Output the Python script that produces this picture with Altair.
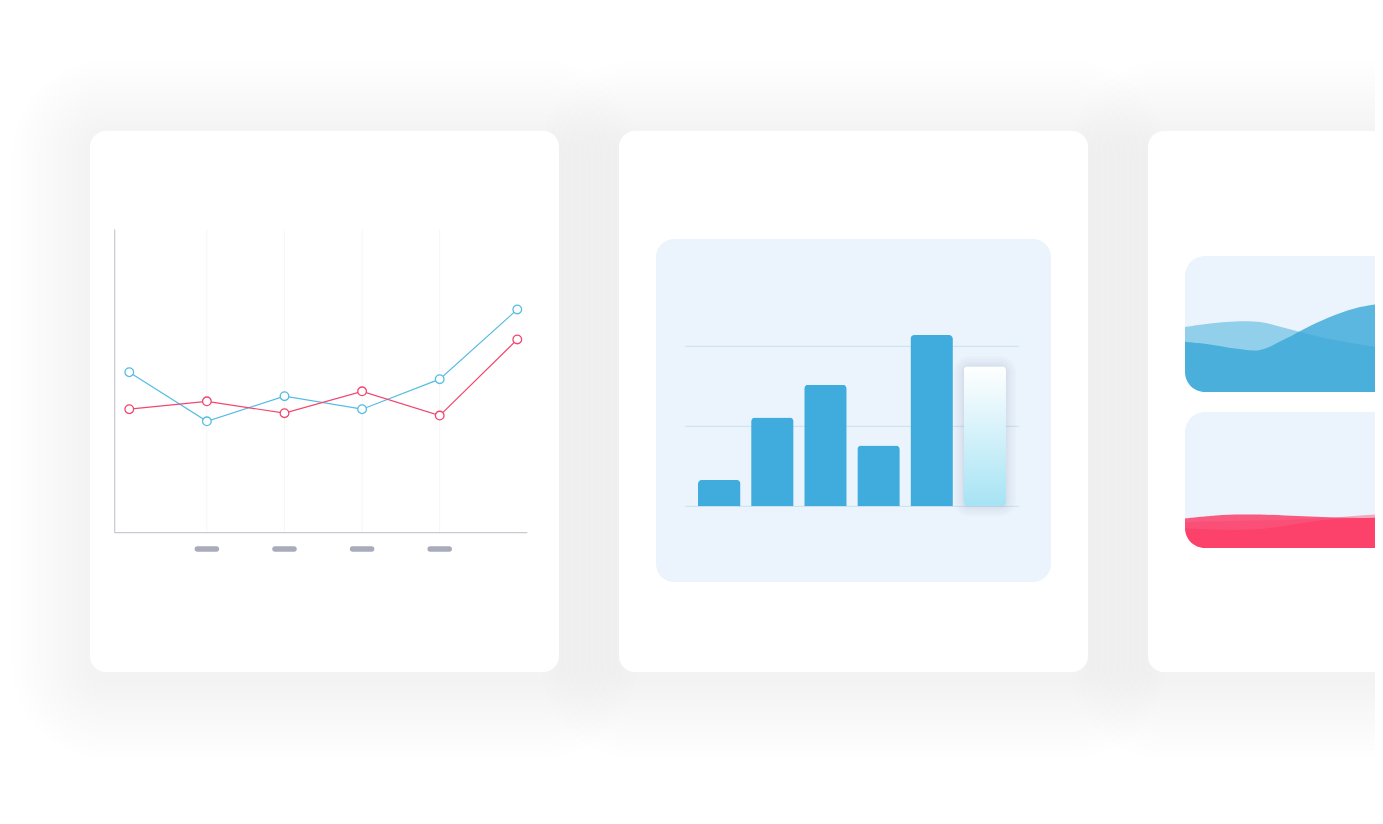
import altair as alt
import pandas as pd

# ---------------- data ----------------
line_steps = [0, 1, 2, 3, 4, 5]
blue_values = [52.9, 36.7, 45.0, 40.7, 50.6, 73.6]
red_values = [40.7, 43.3, 39.4, 46.6, 38.6, 63.7]
line_ticks = [1, 2, 3, 4]

bar_categories = ["1", "2", "3", "4", "5", "6"]
bar_values = [33, 111, 152, 76, 214, 175]
bar_grid = [0, 100, 200]
bar_highlight = "6"

wave_t = [0, 25, 50, 75, 100, 125, 150, 175, 200]
blue_back = [36.9, 34.9, 31.9, 30.9, 38.9, 48.5, 56.6, 62.5, 65.4]
blue_front = [47.8, 50.4, 51.8, 51.5, 47.1, 42.3, 38.2, 34.9, 32.0]
red_pale = [19.1, 19.5, 19.9, 20.2, 20.6, 21.3, 22.4, 23.9, 25.0]
red_mid = [21.7, 23.5, 24.6, 24.6, 23.9, 23.2, 22.4, 22.1, 22.1]
red_deep = [14.3, 13.6, 13.2, 14.0, 16.2, 19.1, 21.3, 22.1, 22.4]

# ---------------- layout (image pixels) ----------------
W, H = 1367, 808
M = 8  # page margin
CARDS = [(90, 131, 559, 672), (619, 131, 1088, 672), (1148, 131, 1617, 672)]
CARD_R = 16
SHADOW_LEVELS = 12
SHADOW_STEP = 6.5
SHADOW_DY = 8
SHADOW_OPACITY = 0.003
BAR_PANEL = (656, 239, 1051, 582)
WAVE_PANELS = [(1185, 256, 1700, 392), (1185, 412, 1700, 548)]
PANEL_R = 18

LINE_XDOM = [-0.188, 5.129]
LINE_XPX = [114.7, 527.3]
LINE_YPX = [532.7, 229.3]
PILL_Y = 549

BAR_XPX = [685, 1019]
BAR_YPX = [506.3, 266.3]

WAVE_XPX = [1185, 1385]

# ---------------- styles ----------------
BG_PANEL = "#EBF4FC"
BLUE_LINE = "#56BDE3"
RED_LINE = "#F2466F"
AXIS_C = "#C8CAD2"
GRID_C = "#F6F6F9"
PILL_C = "#A8ABBB"
BAR_C = "#3FACDD"
BAR_GRID_C = "#CFE4F1"
WAVE_BLUE = "#3AAAD8"
WAVE_RED = "#FB3E68"

PX = alt.Scale(domain=[M, M + W], range=[0, W], nice=False, zero=False)
PY = alt.Scale(domain=[M, M + H], range=[0, H], nice=False, zero=False)


def lin(domain, px):
    return alt.Scale(domain=domain, range=[px[0] - M, px[1] - M], nice=False, zero=False)


def boxes(rows, **mark):
    df = pd.DataFrame(rows, columns=["x", "y", "x2", "y2"])
    return alt.Chart(df).mark_rect(**mark).encode(
        x=alt.X("x:Q", scale=PX, axis=None),
        x2="x2:Q",
        y=alt.Y("y:Q", scale=PY, axis=None),
        y2="y2:Q",
    )


layers = []

# shadows
for i in range(SHADOW_LEVELS, 0, -1):
    e = SHADOW_STEP * i
    rows = [(x0 - e, y0 - e + SHADOW_DY, x1 + e, y1 + e + SHADOW_DY) for x0, y0, x1, y1 in CARDS]
    layers.append(boxes(rows, color="black", opacity=SHADOW_OPACITY, cornerRadius=CARD_R + e))

# cards
layers.append(boxes(CARDS, color="white", cornerRadius=CARD_R))
# inner panels
layers.append(boxes([BAR_PANEL], color=BG_PANEL, cornerRadius=PANEL_R))
layers.append(boxes(WAVE_PANELS, color=BG_PANEL, cornerRadius=20))

# ---------------- line chart ----------------
LX = lin(LINE_XDOM, LINE_XPX)
LY = lin([0, 100], LINE_YPX)
line_df = pd.DataFrame({
    "step": line_steps * 2,
    "value": blue_values + red_values,
    "series": ["blue"] * len(line_steps) + ["red"] * len(line_steps),
})
tick_df = pd.DataFrame({"step": line_ticks, "y0": [0] * len(line_ticks), "y1": [100] * len(line_ticks)})
axes_df = pd.DataFrame({
    "x": [LINE_XDOM[0], LINE_XDOM[0]],
    "x2": [LINE_XDOM[0], LINE_XDOM[1]],
    "y": [0, 0],
    "y2": [100, 0],
})
series_scale = alt.Scale(domain=["blue", "red"], range=[BLUE_LINE, RED_LINE])

grid = alt.Chart(tick_df).mark_rule(color=GRID_C, strokeWidth=1).encode(
    x=alt.X("step:Q", scale=LX, axis=None),
    y=alt.Y("y0:Q", scale=LY, axis=None),
    y2="y1:Q",
)
axis_lines = alt.Chart(axes_df).mark_rule(color=AXIS_C, strokeWidth=1.2).encode(
    x=alt.X("x:Q", scale=LX, axis=None),
    x2="x2:Q",
    y=alt.Y("y:Q", scale=LY, axis=None),
    y2="y2:Q",
)
pills = alt.Chart(tick_df).mark_rule(
    color=PILL_C, strokeWidth=5.5, strokeCap="round", xOffset=-9.5, x2Offset=9.5
).encode(
    x=alt.X("step:Q", scale=LX, axis=None),
    x2="step:Q",
    y=alt.value(PILL_Y - M),
)
lines = alt.Chart(line_df).mark_line(strokeWidth=1.2).encode(
    x=alt.X("step:Q", scale=LX, axis=None),
    y=alt.Y("value:Q", scale=LY, axis=None),
    stroke=alt.Stroke("series:N", scale=series_scale, legend=None),
)
points = alt.Chart(line_df).mark_point(
    shape="circle", size=75, strokeWidth=1.3, filled=False, fill="white", fillOpacity=1, opacity=1
).encode(
    x=alt.X("step:Q", scale=LX, axis=None),
    y=alt.Y("value:Q", scale=LY, axis=None),
    stroke=alt.Stroke("series:N", scale=series_scale, legend=None),
)
layers.append(alt.layer(grid, axis_lines, pills, lines, points))

# ---------------- bar chart ----------------
BX = alt.Scale(domain=bar_categories, range=[BAR_XPX[0] - M, BAR_XPX[1] - M],
               paddingInner=0.2, paddingOuter=0.245)
BY = lin([0, 300], BAR_YPX)
bar_df = pd.DataFrame({"cat": bar_categories, "value": bar_values})
grid_df = pd.DataFrame({"g": bar_grid})

bar_grid_layer = alt.Chart(grid_df).mark_rule(color=BAR_GRID_C, strokeWidth=1.2).encode(
    y=alt.Y("g:Q", scale=BY, axis=None),
    x=alt.value(BAR_XPX[0] - M),
    x2=alt.value(BAR_XPX[1] - M),
)
bar_enc = dict(
    x=alt.X("cat:N", scale=BX, axis=None, sort=bar_categories),
    y=alt.Y("value:Q", scale=BY, axis=None),
)
hl = alt.Chart(bar_df).transform_filter(alt.datum.cat == bar_highlight)
normal = alt.Chart(bar_df).transform_filter(alt.datum.cat != bar_highlight)
bar_layers = [bar_grid_layer]
for k in [20, 15, 10, 6, 3]:
    bar_layers.append(hl.mark_bar(
        fillOpacity=0, stroke="#3a4a55", strokeOpacity=0.02, strokeWidth=k,
        cornerRadius=6, yOffset=5, y2Offset=5,
    ).encode(**bar_enc))
bar_layers.append(normal.mark_bar(color=BAR_C, cornerRadiusTopLeft=4, cornerRadiusTopRight=4).encode(**bar_enc))
grad = alt.Gradient(
    gradient="linear",
    stops=[alt.GradientStop(color="#FFFFFF", offset=0), alt.GradientStop(color="#A6E3F4", offset=1)],
    x1=0, x2=0, y1=0, y2=1,
)
bar_layers.append(hl.mark_bar(color=grad, cornerRadius=4).encode(**bar_enc))
layers.append(alt.layer(*bar_layers))

# ---------------- wave panels ----------------
WX = lin([0, 200], WAVE_XPX)
CORNER_PATH = "M -1 -1 L -1 1 L 1 1 A 2 2 0 0 1 -1 -1 Z"


def wave_group(panel, series):
    x0, y0, x1, y1 = panel
    wy = lin([0, 100], [y1, y0])
    parts = []
    for vals, color, op in series:
        df = pd.DataFrame({"t": wave_t, "v": vals})
        parts.append(alt.Chart(df).mark_area(interpolate="catmull-rom", color=color, opacity=op).encode(
            x=alt.X("t:Q", scale=WX, axis=None),
            y=alt.Y("v:Q", scale=wy, axis=None),
        ))
    mask = alt.Chart(pd.DataFrame({"k": [0]})).mark_point(
        shape=CORNER_PATH, size=400, filled=True, color="white", opacity=1, strokeWidth=0
    ).encode(x=alt.value(x0 + 10 - M), y=alt.value(y1 - 10 - M))
    parts.append(mask)
    return alt.layer(*parts)


layers.append(wave_group(WAVE_PANELS[0], [
    (blue_back, WAVE_BLUE, 0.82),
    (blue_front, WAVE_BLUE, 0.5),
]))
layers.append(wave_group(WAVE_PANELS[1], [
    (red_pale, WAVE_RED, 0.4),
    (red_mid, WAVE_RED, 0.85),
    (red_deep, WAVE_RED, 0.85),
]))

chart = alt.layer(*layers).resolve_scale(
    x="independent", y="independent"
).properties(
    width=W, height=H, padding=0, autosize=alt.AutoSizeParams(type="none"), background="white"
).configure_view(stroke=None)

chart.save("out.html", embed_options={"renderer": "svg", "actions": False})
